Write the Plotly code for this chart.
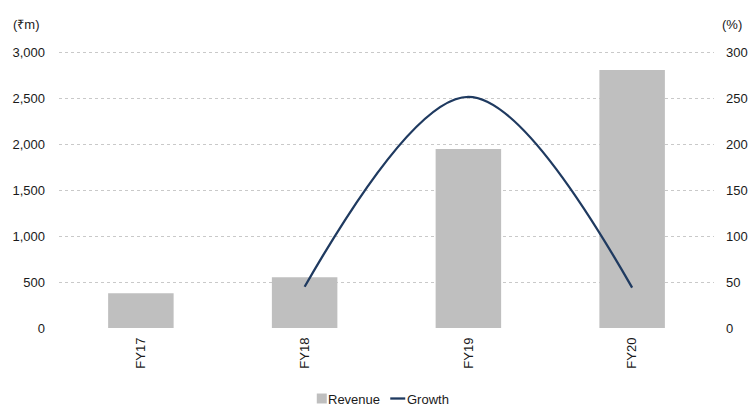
import plotly.graph_objects as go

# Revenue (₹m) and year-on-year growth (%) by fiscal year
years = ["FY17", "FY18", "FY19", "FY20"]
revenue = [380, 554, 1952, 2812]
growth_years = ["FY18", "FY19", "FY20"]
growth = [45, 252, 44]

rev_ticks = [0, 500, 1000, 1500, 2000, 2500, 3000]
pct_ticks = [0, 50, 100, 150, 200, 250, 300]

# headroom above the last tick so its gridline is drawn inside the plot area
REV_MAX = 3030
PCT_MAX = REV_MAX / 10

W, H = 753, 407
PX_PER_UNIT = 276 / 3000
B = 78.7
PH = REV_MAX * PX_PER_UNIT
T = H - B - PH
L, R = 58.6, 39.1
PW = W - L - R

BAR_COLOR = "#bfbfbf"
LINE_COLOR = "#1f3a60"
TEXT_COLOR = "#1a1a1a"
FONT = "Liberation Sans, Arial, sans-serif"


def px(x):
    return (x - L) / PW


def py(y):
    return (H - B - y) / PH


fig = go.Figure()
fig.add_trace(go.Bar(
    x=years, y=revenue, name="Revenue", marker_color=BAR_COLOR,
    marker_line_width=0, width=0.4, showlegend=False,
))
fig.add_trace(go.Scatter(
    x=growth_years, y=growth, name="Growth", yaxis="y2", mode="lines",
    line=dict(color=LINE_COLOR, width=2.3, shape="spline", smoothing=1.0),
    showlegend=False,
))

fig.update_layout(
    width=W, height=H,
    margin=dict(l=L, r=R, t=T, b=B, pad=0),
    paper_bgcolor="white", plot_bgcolor="white",
    font=dict(family=FONT, size=13, color=TEXT_COLOR),
    xaxis=dict(
        type="category", categoryorder="array", categoryarray=years,
        range=[-0.5, 3.5], showgrid=False, zeroline=False, showline=False,
        ticks="", tickangle=-90, tickfont=dict(family=FONT, size=13, color=TEXT_COLOR),
        ticklabelstandoff=6, automargin=False,
    ),
    yaxis=dict(
        range=[0, REV_MAX], tickvals=rev_ticks,
        ticktext=[f"{v:,}" for v in rev_ticks],
        showgrid=True, gridcolor="#c9c9c9", griddash="dot", gridwidth=1,
        zeroline=False, showline=False, ticks="", ticklabelstandoff=13,
        automargin=False,
    ),
    yaxis2=dict(
        range=[0, PCT_MAX], tickvals=pct_ticks, ticktext=[str(v) for v in pct_ticks],
        overlaying="y", side="right", showgrid=False, zeroline=False,
        showline=False, ticks="", ticklabelstandoff=11, automargin=False,
    ),
    bargap=0.6,
)

# axis unit captions
fig.add_annotation(text="(₹m)", xref="paper", yref="paper", x=px(11), y=py(24),
                   xanchor="left", yanchor="middle", showarrow=False)
fig.add_annotation(text="(%)", xref="paper", yref="paper", x=px(744), y=py(24),
                   xanchor="right", yanchor="middle", showarrow=False)

# legend drawn below the axis
fig.add_shape(type="rect", xref="paper", yref="paper",
              x0=px(316.5), x1=px(326.5), y0=py(404), y1=py(394),
              fillcolor=BAR_COLOR, line_width=0)
fig.add_annotation(text="Revenue", xref="paper", yref="paper", x=px(326), y=py(399.5),
                   xanchor="left", yanchor="middle", showarrow=False)
fig.add_shape(type="line", xref="paper", yref="paper",
              x0=px(390), x1=px(405), y0=py(399), y1=py(399),
              line=dict(color=LINE_COLOR, width=2.3))
fig.add_annotation(text="Growth", xref="paper", yref="paper", x=px(405), y=py(399.5),
                   xanchor="left", yanchor="middle", showarrow=False)

fig.write_html("out.html")
